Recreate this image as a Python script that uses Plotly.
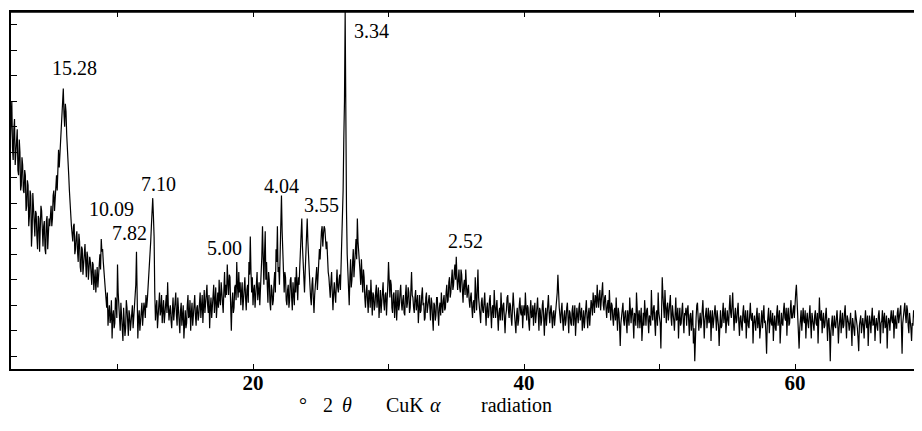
import numpy as np
import plotly.graph_objects as go

# ---- data: intensity (arbitrary counts) read every 0.1 deg 2-theta from 2.1 ----
start_2theta = 2.1
step_2theta = 0.1
intensity = [
    900, 1050, 820, 980, 860, 940, 760, 850, 720,              # 2.1-2.9
    800, 690, 760, 640, 720, 600, 680, 540, 640, 520,          # 3
    610, 470, 590, 520, 620, 480, 580, 450, 600, 510,          # 4
    560, 640, 590, 700, 660, 760, 820, 790, 900, 960,          # 5
    1100, 950, 1010, 880, 760, 640, 560, 500, 570, 470,        # 6
    540, 420, 500, 380, 470, 400, 490, 360, 440, 390,          # 7
    420, 330, 410, 350, 300, 400, 360, 450, 510, 470,          # 8
    380, 290, 240, 170, 250, 200, 120, 230, 180, 260,          # 9
    410, 230, 150, 220, 110, 200, 160, 240, 130, 210,          # 10
    180, 250, 200, 290, 460, 120, 230, 180, 260, 210,          # 11
    240, 290, 270, 360, 450, 560, 670, 520, 190, 270,          # 12
    200, 300, 230, 180, 270, 210, 290, 340, 190, 250,          # 13
    160, 280, 220, 300, 170, 240, 140, 260, 200, 120,          # 14
    230, 180, 290, 210, 150, 260, 200, 290, 170, 250,          # 15
    210, 300, 240, 180, 310, 250, 330, 220, 160, 280,          # 16
    240, 330, 260, 200, 300, 350, 250, 300, 220, 380,          # 17
    330, 410, 290, 360, 150, 300, 240, 330, 420, 280,          # 18
    300, 250, 340, 270, 360, 230, 330, 420, 520, 300,          # 19
    250, 330, 280, 380, 300, 250, 350, 560, 330, 540,          # 20
    420, 260, 350, 230, 310, 270, 380, 470, 560, 400,          # 21
    450, 680, 420, 300, 360, 250, 330, 270, 360, 230,          # 22
    300, 360, 400, 270, 330, 460, 590, 400, 300, 450,          # 23
    590, 420, 330, 250, 360, 220, 330, 400, 360, 470,          # 24
    500, 560, 530, 550, 470, 420, 360, 280, 380, 230,          # 25
    340, 260, 390, 300, 370, 420, 560, 900, 1400, 620,         # 26
    380, 250, 430, 350, 470, 400, 510, 590, 470, 380,          # 27
    430, 300, 360, 240, 330, 220, 300, 350, 210, 290,          # 28
    250, 330, 280, 200, 310, 260, 340, 230, 300, 250,          # 29
    420, 280, 330, 220, 300, 260, 190, 310, 250, 330,          # 30
    230, 290, 210, 330, 260, 300, 240, 380, 280, 220,          # 31
    310, 250, 180, 290, 230, 320, 260, 200, 300, 240,          # 32
    290, 190, 260, 150, 250, 210, 280, 170, 260, 300,          # 33
    220, 290, 240, 330, 270, 360, 300, 390, 330, 410,          # 34
    440, 310, 390, 300, 370, 260, 350, 390, 280, 330,          # 35
    240, 300, 200, 270, 360, 230, 390, 250, 180, 280,          # 36
    220, 300, 170, 260, 210, 290, 160, 250, 310, 200,          # 37
    270, 150, 240, 300, 190, 260, 140, 230, 290, 200,          # 38
    250, 170, 300, 220, 140, 240, 190, 280, 210, 160,          # 39
    250, 300, 190, 240, 150, 270, 210, 170, 260, 200,          # 40
    280, 150, 230, 190, 270, 130, 240, 200, 290, 180,          # 41
    250, 160, 230, 200, 270, 370, 240, 180, 260, 150,          # 42
    230, 190, 260, 140, 220, 170, 250, 200, 130, 240,          # 43
    180, 260, 210, 150, 230, 190, 270, 160, 240, 210,          # 44
    250, 300, 220, 280, 330, 240, 310, 260, 340, 230,          # 45
    290, 200, 270, 310, 190, 250, 170, 240, 280, 150,          # 46
    220, 90, 200, 260, 170, 230, 140, 210, 280, 180,           # 47
    240, 120, 210, 300, 160, 230, 190, 110, 220, 270,          # 48
    170, 240, 140, 200, 310, 190, 250, 130, 230, 300,          # 49
    200, 80, 360, 250, 310, 180, 260, 220, 290, 170,           # 50
    230, 150, 280, 200, 120, 240, 180, 260, 140, 210,          # 51
    170, 250, 130, 220, 180, 100, 30, 200, 260, 150,           # 52
    220, 180, 270, 120, 210, 160, 240, 190, 110, 230,          # 53
    180, 250, 150, 210, 90, 230, 170, 260, 200, 140,           # 54
    230, 170, 290, 200, 300, 150, 240, 190, 260, 130,          # 55
    210, 150, 250, 180, 120, 230, 160, 260, 190, 100,          # 56
    210, 150, 240, 180, 120, 200, 160, 250, 190, 60,           # 57
    200, 140, 230, 170, 110, 210, 150, 250, 190, 100,          # 58
    220, 170, 260, 190, 130, 240, 180, 270, 200, 250,          # 59
    280, 330, 230, 80, 200, 150, 240, 180, 120, 220,           # 60
    160, 250, 120, 200, 150, 230, 170, 100, 280, 190,          # 61
    140, 220, 170, 240, 110, 200, 30, 180, 130, 210,           # 62
    160, 230, 100, 190, 140, 220, 170, 250, 120, 200,          # 63
    150, 220, 90, 180, 130, 210, 160, 70, 190, 140,            # 64
    200, 120, 230, 160, 90, 210, 140, 240, 180, 110,           # 65
    200, 150, 230, 100, 190, 140, 220, 170, 80, 200,           # 66
    150, 230, 180, 120, 210, 160, 240, 200, 250, 60,           # 67
    220, 260, 180, 230, 140, 200, 110, 170, 220, 130,          # 68
    190, 150, 220, 120, 180,                                   # 69.0-69.4
]

# readings taken half-way between the ones above (2.15, 2.25, ... 69.35)
intensity_half = [
    980, 870, 940, 800, 910, 780, 900, 700, 830,               # 2.15-2.95
    700, 780, 620, 740, 560, 700, 480, 690, 560, 620,          # 3
    520, 600, 460, 640, 500, 560, 470, 580, 470, 590,          # 4
    620, 560, 680, 620, 740, 700, 860, 840, 940, 1020,         # 5
    1000, 1040, 920, 830, 700, 580, 530, 560, 450, 520,        # 6
    460, 530, 400, 480, 370, 450, 420, 460, 350, 440,          # 7
    360, 420, 310, 390, 350, 320, 420, 390, 460, 420,          # 8
    330, 260, 300, 220, 180, 270, 210, 160, 280, 200,          # 9
    300, 190, 260, 170, 240, 130, 270, 180, 230, 150,          # 10
    220, 160, 240, 330, 250, 200, 150, 240, 170, 260,          # 11
    200, 240, 310, 400, 500, 600, 600, 300, 240, 160,          # 12
    260, 210, 290, 230, 180, 260, 220, 250, 230, 190,          # 13
    230, 190, 270, 210, 280, 180, 230, 170, 250, 200,          # 14
    160, 250, 200, 270, 220, 170, 250, 210, 240, 190,          # 15
    260, 200, 290, 260, 220, 300, 250, 290, 240, 200,          # 16
    290, 220, 320, 280, 240, 270, 340, 260, 310, 280,          # 17
    290, 340, 370, 250, 260, 220, 320, 270, 330, 380,          # 18
    340, 300, 230, 330, 280, 310, 260, 370, 380, 360,          # 19
    310, 240, 350, 270, 340, 300, 440, 400, 450, 350,          # 20
    330, 380, 260, 330, 250, 340, 300, 420, 380, 330,          # 21
    560, 540, 350, 380, 270, 310, 240, 350, 280, 340,          # 22
    250, 300, 330, 360, 400, 500, 480, 330, 380, 520,          # 23
    500, 370, 280, 330, 280, 290, 380, 310, 420, 430,          # 24
    540, 480, 560, 500, 500, 380, 300, 340, 300, 300,          # 25
    290, 330, 320, 350, 310, 480, 700, 1050, 850, 450,         # 26
    300, 360, 320, 420, 360, 460, 430, 500, 410, 330,          # 27
    360, 390, 280, 300, 270, 310, 240, 280, 300, 230,          # 28
    300, 240, 320, 270, 220, 310, 260, 290, 210, 330,          # 29
    330, 350, 240, 290, 200, 310, 270, 230, 300, 260,          # 30
    270, 220, 290, 240, 320, 220, 310, 290, 240, 280,          # 31
    230, 290, 250, 220, 290, 250, 190, 280, 220, 260,          # 32
    240, 280, 200, 260, 190, 280, 220, 240, 210, 250,          # 33
    270, 230, 300, 260, 340, 280, 350, 310, 380, 350,          # 34
    360, 350, 320, 390, 310, 330, 290, 330, 310, 270,          # 35
    280, 240, 260, 220, 290, 310, 280, 220, 260, 230,          # 36
    260, 230, 240, 200, 270, 220, 240, 200, 250, 240,          # 37
    210, 220, 190, 240, 250, 200, 210, 280, 230, 260,          # 38
    200, 240, 250, 180, 210, 170, 250, 220, 250, 220,          # 39
    210, 240, 250, 180, 230, 200, 250, 230, 180, 240,          # 40
    210, 240, 170, 250, 200, 210, 170, 250, 220, 230,          # 41
    200, 220, 170, 250, 300, 280, 210, 230, 190, 210,          # 42
    170, 240, 200, 230, 180, 230, 170, 250, 200, 210,          # 43
    240, 190, 240, 200, 160, 250, 200, 220, 170, 270,          # 44
    210, 260, 290, 240, 270, 290, 230, 300, 250, 280,          # 45
    240, 250, 220, 240, 260, 200, 230, 190, 210, 240,          # 46
    170, 180, 240, 190, 220, 180, 230, 170, 200, 230,          # 47
    190, 220, 170, 240, 210, 160, 240, 200, 170, 220,          # 48
    230, 190, 210, 170, 220, 240, 180, 220, 170, 220,          # 49
    180, 220, 290, 200, 230, 240, 190, 250, 200, 250,          # 50
    190, 230, 190, 240, 200, 170, 230, 190, 220, 240,          # 51
    230, 190, 210, 150, 230, 160, 170, 250, 200, 190,          # 52
    160, 230, 200, 190, 240, 220, 180, 230, 200, 160,          # 53
    220, 190, 230, 170, 190, 160, 220, 180, 240, 200,          # 54
    190, 240, 220, 250, 220, 210, 180, 230, 180, 200,          # 55
    170, 220, 190, 230, 190, 170, 210, 200, 220, 180,          # 56
    180, 210, 160, 220, 170, 230, 200, 180, 140, 170,          # 57
    240, 190, 180, 220, 180, 160, 220, 170, 230, 190,          # 58
    180, 230, 200, 240, 210, 170, 230, 200, 230, 200,          # 59
    300, 260, 170, 160, 230, 210, 190, 230, 190, 180,          # 60
    210, 180, 220, 160, 210, 180, 220, 190, 200, 230,          # 61
    190, 160, 210, 180, 190, 140, 150, 210, 180, 170,          # 62
    200, 180, 160, 230, 190, 160, 220, 180, 210, 180,          # 63
    190, 160, 200, 150, 230, 180, 120, 170, 210, 170,          # 64
    170, 190, 180, 210, 170, 180, 200, 170, 210, 170,          # 65
    170, 210, 180, 180, 230, 200, 160, 210, 170, 190,          # 66
    200, 190, 230, 190, 160, 220, 180, 230, 170, 180,          # 67
    240, 210, 250, 170, 220, 160, 180, 230, 170, 200,          # 68
    220, 170, 180, 210,                                        # 69.05-69.35
]

# merge both sets of readings into one trace ordered by angle
theta_main = start_2theta + step_2theta * np.arange(len(intensity))
theta_half = start_2theta + step_2theta * (np.arange(len(intensity_half)) + 0.5)
two_theta = np.round(np.concatenate([theta_main, theta_half]), 3)
counts = np.concatenate([np.array(intensity), np.array(intensity_half)])
order = np.argsort(two_theta, kind="stable")
two_theta, counts = two_theta[order], counts[order]

# peak d-spacing labels (Angstrom) and their label anchor points
peak_labels = ["15.28", "10.09", "7.82", "7.10", "5.00", "4.04", "3.55", "3.34", "2.52"]
label_x = [6.79, 9.52, 10.85, 13.06, 17.93, 22.07, 25.09, 28.78, 35.65]
label_y = [1180, 628, 533, 726, 475, 718, 643, 1326, 502]

# axis-title pieces and their positions along the angle axis
title_parts = ["°", "2", "<i>θ</i>", "CuK", "<i>α</i>", "radiation"]
title_x = [23.69, 25.53, 26.94, 31.2, 33.5, 39.41]

x_tick_vals = [10, 20, 30, 40, 50, 60, 70]
x_tick_text = ["", "20", "", "40", "", "60", ""]
y_tick_vals = [50 + 100 * k for k in range(14)]

x_range = [2.14, 69.37]
y_range = [0, 1400]

serif = "Liberation Serif, Times New Roman, serif"

fig = go.Figure()
fig.add_trace(go.Scatter(
    x=two_theta, y=counts, mode="lines",
    line=dict(color="black", width=1.2),
    hoverinfo="skip", showlegend=False,
))

for txt, lx, ly in zip(peak_labels, label_x, label_y):
    fig.add_annotation(x=lx, y=ly, text=txt, showarrow=False,
                       font=dict(family=serif, size=20, color="black"),
                       xanchor="center", yanchor="middle")

for txt, tx in zip(title_parts, title_x):
    fig.add_annotation(x=tx, xref="x", y=-0.102, yref="paper", text=txt,
                       showarrow=False, xanchor="center", yanchor="middle",
                       font=dict(family=serif, size=20, color="black"))

# top frame line of the plot box
fig.add_shape(type="line", xref="paper", yref="paper", x0=0, x1=1, y0=1, y1=1,
              line=dict(color="black", width=1.5), layer="above")

fig.update_layout(
    width=914, height=423,
    margin=dict(l=3, r=0, t=4, b=62),
    paper_bgcolor="white", plot_bgcolor="white",
    xaxis=dict(
        range=x_range, showgrid=False, zeroline=False,
        showline=True, linecolor="black", linewidth=2, mirror="ticks",
        ticks="inside", ticklen=5, tickwidth=1, tickcolor="black",
        tickvals=x_tick_vals, ticktext=x_tick_text,
        ticklabelstandoff=-6,
        tickfont=dict(family=serif, size=21, color="black", weight="bold"),
    ),
    yaxis=dict(
        range=y_range, showgrid=False, zeroline=False,
        showline=True, linecolor="black", linewidth=1.5,
        ticks="inside", ticklen=6, tickwidth=1, tickcolor="black",
        tickvals=y_tick_vals, showticklabels=False,
    ),
)

fig.write_html("out.html")
